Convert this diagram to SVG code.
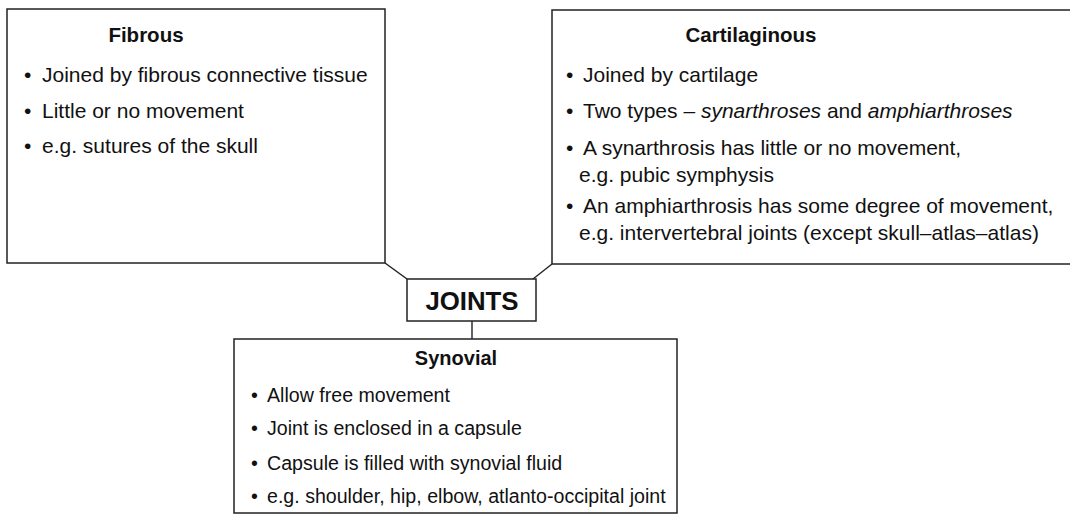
<svg xmlns="http://www.w3.org/2000/svg" width="1070" height="515" viewBox="0 0 1070 515">
<style>
.box{fill:#fff;stroke:#222;stroke-width:1.5}
.con{fill:none;stroke:#222;stroke-width:1.4}
text{font-family:"Liberation Sans",Arial,sans-serif;fill:#111}
.t{font-size:20.5px;font-weight:bold}
.ts{font-size:20px;font-weight:bold}
.b{font-size:21px}
.s{font-size:19.6px}
.j{font-size:25.8px;font-weight:bold}
</style>
<rect width="1070" height="515" fill="#fff"/>
<g id="connectors">
<polyline class="con" points="385,263 407,279"/>
<polyline class="con" points="552,264 533,279"/>
<polyline class="con" points="472,321 472,339"/>
</g>
<g id="fibrous">
<rect class="box" x="7" y="9" width="378" height="254"/>
<text class="t" x="146" y="42" text-anchor="middle">Fibrous</text>
<text class="b" x="24" y="82">•</text><text class="b" x="42" y="82">Joined by fibrous connective tissue</text>
<text class="b" x="24" y="118">•</text><text class="b" x="42" y="118">Little or no movement</text>
<text class="b" x="24" y="153">•</text><text class="b" x="42" y="153">e.g. sutures of the skull</text>
</g>
<g id="cartilaginous">
<rect class="box" x="552" y="10" width="530" height="254"/>
<text class="t" x="751" y="42" text-anchor="middle">Cartilaginous</text>
<text class="b" x="566" y="82">•</text><text class="b" x="583" y="82">Joined by cartilage</text>
<text class="b" x="566" y="118">•</text><text class="b" x="583" y="118">Two types – <tspan font-style="italic">synarthroses</tspan> and <tspan font-style="italic">amphiarthroses</tspan></text>
<text class="b" x="566" y="155">•</text><text class="b" x="583" y="155">A synarthrosis has little or no movement,</text>
<text class="b" x="579" y="182">e.g. pubic symphysis</text>
<text class="b" x="566" y="213">•</text><text class="b" x="583" y="213">An amphiarthrosis has some degree of movement,</text>
<text class="b" x="579" y="240">e.g. intervertebral joints (except skull–atlas–atlas)</text>
</g>
<g id="joints">
<rect class="box" x="407" y="279" width="129" height="42"/>
<text class="j" x="472" y="310" text-anchor="middle">JOINTS</text>
</g>
<g id="synovial">
<rect class="box" x="234" y="339" width="443" height="174"/>
<text class="ts" x="456" y="365" text-anchor="middle">Synovial</text>
<text class="s" x="251" y="402">•</text><text class="s" x="267" y="402">Allow free movement</text>
<text class="s" x="251" y="435">•</text><text class="s" x="267" y="435">Joint is enclosed in a capsule</text>
<text class="s" x="251" y="470">•</text><text class="s" x="267" y="470">Capsule is filled with synovial fluid</text>
<text class="s" x="251" y="503">•</text><text class="s" x="267" y="503">e.g. shoulder, hip, elbow, atlanto-occipital joint</text>
</g>
</svg>
